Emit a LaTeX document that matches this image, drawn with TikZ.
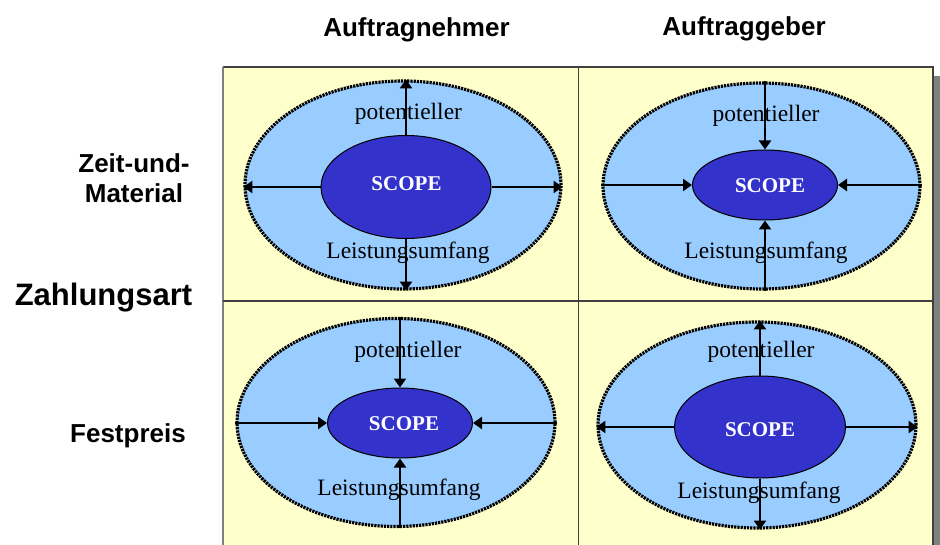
\documentclass[tikz,border=0pt]{standalone}
\usepackage{fontspec}
\setmainfont{Liberation Serif}
\newfontfamily\lsans{Liberation Sans}
\usetikzlibrary{shapes.geometric,arrows.meta}
\definecolor{bgyellow}{HTML}{FFFFCC}
\definecolor{outerblue}{HTML}{99CCFF}
\definecolor{innerblue}{HTML}{3333CC}
\definecolor{framegray}{HTML}{404040}
\definecolor{shadowgray}{HTML}{808080}
\tikzset{
  outerell/.style={ellipse, draw=black, fill=outerblue, line width=3.2pt, dash pattern=on 2.2pt off 1pt, inner sep=0pt},
  innerell/.style={ellipse, draw=black, fill=innerblue, line width=1pt, inner sep=0pt},
  scopetxt/.style={font=\fontsize{21}{21}\selectfont\bfseries, text=white, inner sep=0pt, anchor=base},
  lbl/.style={font=\fontsize{23.5}{24}\selectfont, inner sep=0pt, anchor=base},
  arr/.style={line width=2.6pt, -{Triangle[length=9pt,width=12pt]}},
  headtxt/.style={font=\lsans\bfseries\fontsize{26}{30}\selectfont, inner sep=0pt, anchor=base},
  gridline/.style={draw=framegray, line width=1.3pt}
}
\begin{document}
\begin{tikzpicture}[x=1pt,y=-1pt]
\useasboundingbox (0,0) rectangle (940,545);
% frame
\fill[shadowgray] (933,76) rectangle (940,545);
\fill[bgyellow] (223,67) rectangle (933,545);
\coordinate (ftl) at (223,67);
\coordinate (ftr) at (933,67);
\coordinate (fbl) at (223,545);
\coordinate (fbr) at (933,545);
\coordinate (ml) at (223,301);
\coordinate (mr) at (933,301);
\coordinate (mt) at (578.5,67);
\coordinate (mb) at (578.5,545);
\draw[gridline] (ftl) -- (ftr) -- (fbr);
\draw[draw=shadowgray, line width=2.8pt] (ftl) -- (fbl);
\draw[gridline] (ml) -- (mr);
\draw[gridline] (mt) -- (mb);

% headings
\node[headtxt] (an) at (416.5,37) {Auftragnehmer};
\node[headtxt] (ag) at (744,35.5) {Auftraggeber};
\node[headtxt] (zeit) at (134,173) {Zeit-und-};
\node[headtxt] (mat) at (134,203) {Material};
\node[headtxt, font=\lsans\bfseries\fontsize{31}{34}\selectfont] (za) at (103.5,306) {Zahlungsart};
\node[headtxt] (fp) at (128,442) {Festpreis};

% top-left: Auftragnehmer / Zeit-und-Material (outward)
\node[outerell, minimum width=316pt, minimum height=208pt] (tlo) at (403,185) {};
\node[innerell, minimum width=170pt, minimum height=103pt] (tli) at (406,187) {};
\node[scopetxt] (tls) at (406.5,190.7) {SCOPE};
\node[lbl] (tlp) at (408.5,120) {potentieller};
\node[lbl] (tll) at (408,259) {Leistungsumfang};
\draw[arr] (tli.north) -- (tli.north |- tlo.north);
\draw[arr] (tli.south) -- (tli.south |- tlo.south);
\draw[arr] (tli.west) -- (tli.west -| tlo.west);
\draw[arr] (tli.east) -- (tli.east -| tlo.east);

% top-right: Auftraggeber / Zeit-und-Material (inward)
\node[outerell, minimum width=317pt, minimum height=206pt] (tro) at (761.5,186) {};
\node[innerell, minimum width=145pt, minimum height=70pt] (tri) at (765,185) {};
\node[scopetxt] (trs) at (770,192.7) {SCOPE};
\node[lbl] (trp) at (766,121.7) {potentieller};
\node[lbl] (trl) at (766,259) {Leistungsumfang};
\draw[arr] (tri.north |- tro.north) -- (tri.north);
\draw[arr] (tri.south |- tro.south) -- (tri.south);
\draw[arr] (tri.west -| tro.west) -- (tri.west);
\draw[arr] (tri.east -| tro.east) -- (tri.east);

% bottom-left: Auftragnehmer / Festpreis (inward)
\node[outerell, minimum width=318pt, minimum height=208pt] (blo) at (396,422.5) {};
\node[innerell, minimum width=145pt, minimum height=70pt] (bli) at (400,423) {};
\node[scopetxt] (bls) at (404,430) {SCOPE};
\node[lbl] (blp) at (408,358) {potentieller};
\node[lbl] (bll) at (399,495) {Leistungsumfang};
\draw[arr] (bli.north |- blo.north) -- (bli.north);
\draw[arr] (bli.south |- blo.south) -- (bli.south);
\draw[arr] (bli.west -| blo.west) -- (bli.west);
\draw[arr] (bli.east -| blo.east) -- (bli.east);

% bottom-right: Auftraggeber / Festpreis (outward)
\node[outerell, minimum width=318pt, minimum height=206pt] (bro) at (757,425) {};
\node[innerell, minimum width=171pt, minimum height=102pt] (bri) at (760,427) {};
\node[scopetxt] (brs) at (760,436.7) {SCOPE};
\node[lbl] (brp) at (761,358) {potentieller};
\node[lbl] (brl) at (759,498) {Leistungsumfang};
\draw[arr] (bri.north) -- (bri.north |- bro.north);
\draw[arr] (bri.south) -- (bri.south |- bro.south);
\draw[arr] (bri.west) -- (bri.west -| bro.west);
\draw[arr] (bri.east) -- (bri.east -| bro.east);
\end{tikzpicture}
\end{document}
